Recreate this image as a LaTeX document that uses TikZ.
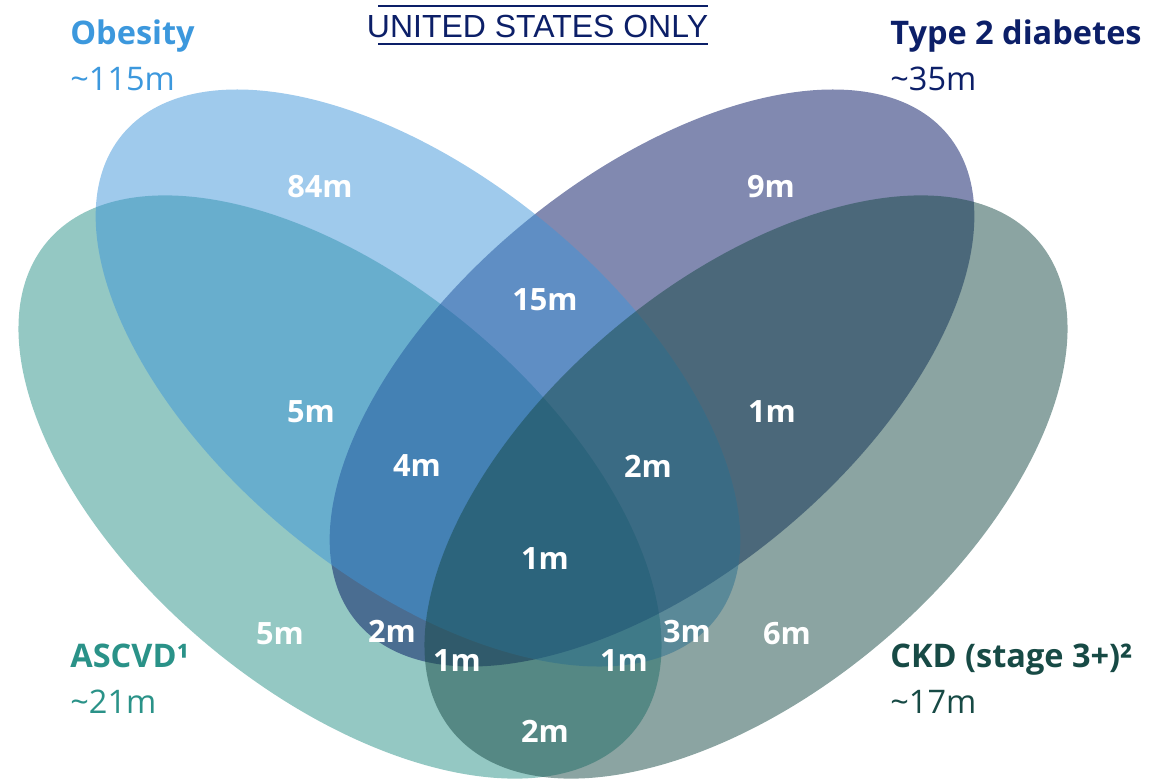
\documentclass[tikz,border=0pt]{standalone}
\usepackage{fontspec}
\setmainfont{Open Sans}
\newfontfamily\arialfont{Liberation Sans}

\definecolor{obesity}{HTML}{3F95D9}
\definecolor{diabetes}{HTML}{031361}
\definecolor{ascvd}{HTML}{299187}
\definecolor{ckd}{HTML}{174945}
\definecolor{obesitytext}{HTML}{3C98DD}
\definecolor{navytext}{HTML}{0C1F68}
\definecolor{ascvdtext}{HTML}{2A9288}
\definecolor{ckdtext}{HTML}{174A45}

\tikzset{
  venn/.style={fill=#1, fill opacity=0.5},
  count/.style={text=white, font=\fontsize{17.5}{21}\selectfont\bfseries},
  setname/.style={anchor=base west, inner sep=0pt, font=\fontsize{18.5}{22}\selectfont\bfseries},
  setsize/.style={anchor=base west, inner sep=0pt, font=\fontsize{18.5}{22}\selectfont},
  titlerule/.style={navytext, line width=1.15pt}
}

\begin{document}
\begin{tikzpicture}[x=0.02cm, y=-0.02cm]
        \useasboundingbox (0,0) rectangle (1162,781);

        % Sets
        \fill[venn=ascvd] (340,487) ellipse [x radius=382, y radius=206, rotate=-39.9];
        \fill[venn=diabetes] (652,378) ellipse [x radius=383, y radius=201, rotate=39.4];
        \fill[venn=obesity] (418,378) ellipse [x radius=383, y radius=201, rotate=-39.4];
        \fill[venn=ckd] (746,487) ellipse [x radius=382, y radius=206, rotate=39.9];

        % Title
        \node[font=\arialfont\fontsize{18.2}{21}\selectfont, text=navytext, anchor=base, inner sep=0pt] (title) at (537.5,37.7) {UNITED STATES ONLY};
        \draw[titlerule] (378,6) -- (708,6);
        \draw[titlerule] (378,44) -- (708,44);

        % Set names
        \node[setname, text=obesitytext] (obesity) at (70,44) {Obesity};
        \node[setsize, text=obesitytext] (obesitysize) at (70,90) {\textasciitilde115m};
        \node[setname, text=navytext] (diabetes) at (890,44) {Type 2 diabetes};
        \node[setsize, text=navytext] (diabetessize) at (890,90) {\textasciitilde35m};
        \node[setname, text=ascvdtext] (ascvd) at (70,667) {ASCVD¹};
        \node[setsize, text=ascvdtext] (ascvdsize) at (70,713) {\textasciitilde21m};
        \node[setname, text=ckdtext] (ckd) at (890,667) {CKD (stage 3+)²};
        \node[setsize, text=ckdtext] (ckdsize) at (890,713) {\textasciitilde17m};

        % Counts
        \node[count] (o) at (320,187) {84m};
        \node[count] (d) at (771,187) {9m};
        \node[count] (od) at (545,300) {15m};
        \node[count] (oa) at (311,412) {5m};
        \node[count] (dc) at (772,412) {1m};
        \node[count] (oda) at (417,466) {4m};
        \node[count] (odc) at (648,466) {2m};
        \node[count] (odac) at (545,559) {1m};
        \node[count] (a) at (280,634) {5m};
        \node[count] (da) at (392,631) {2m};
        \node[count] (oc) at (687,632) {3m};
        \node[count] (c) at (787,634) {6m};
        \node[count] (dac) at (457,661) {1m};
        \node[count] (oac) at (624,661) {1m};
        \node[count] (ac) at (545,731) {2m};
    \end{tikzpicture}
\end{document}
